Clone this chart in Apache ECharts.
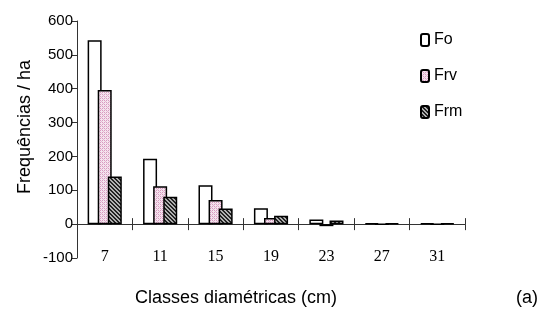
<!DOCTYPE html>
<html><head><meta charset="utf-8">
<script src="https://cdn.jsdelivr.net/npm/echarts@6/dist/echarts.min.js"></script>
<style>html,body{margin:0;padding:0;background:#fff}#c{width:548px;height:324px}</style>
</head><body><div id="c"></div>
<script>
const categories = ['7','11','15','19','23','27','31'];
const fo  = [543, 193, 115, 47, 14, 3, 3];
const frv = [396, 112, 71, 18, -6, 0, 0];
const frm = [141, 81, 46, 25, 11, 3, 3];
const yTicks = [-100, 0, 100, 200, 300, 400, 500, 600];

function makePattern(kind){
  const c = document.createElement('canvas');
  c.width = 4; c.height = 4;
  const g = c.getContext('2d');
  if(kind==='dots'){
    g.fillStyle = '#f4e4ee'; g.fillRect(0,0,4,4);
    g.fillStyle = '#d89ac0';
    g.fillRect(0,0,1,1); g.fillRect(2,2,1,1); g.fillRect(2,0,1,1); g.fillRect(0,2,1,1);
    g.fillStyle = '#e6b8d4';
    g.fillRect(1,1,1,1); g.fillRect(3,3,1,1);
  } else {
    g.fillStyle = '#b0b0b0'; g.fillRect(0,0,4,4);
    g.fillStyle = '#222';
    for(let i=0;i<4;i++){ g.fillRect(i,i,1,1); g.fillRect((i+1)%4,i,1,1); }
  }
  return c;
}
const dotPat = {image: makePattern('dots'), repeat: 'repeat'};
const hatchPat = {image: makePattern('hatch'), repeat: 'repeat'};

const H = 324;
const chart = echarts.init(document.getElementById('c'), null, {renderer:'canvas'});
const barBase = {type:'bar', barWidth:14, barGap:'-28%'};
const gridRect = {left:77, right:83, top:21, bottom:66, containLabel:false};
chart.setOption({
  animation:false,
  textStyle:{fontFamily:'Liberation Sans'},
  grid:[Object.assign({}, gridRect), Object.assign({}, gridRect)],
  legend:{
    orient:'vertical', left:415, top:27, itemGap:20, itemWidth:8, itemHeight:12,
    textStyle:{fontSize:16, color:'#000', fontFamily:'Liberation Sans'},
    data:['Fo','Frv','Frm']
  },
  xAxis:[{
    gridIndex:0, type:'category', data:categories, position:'bottom',
    axisLine:{onZero:true, lineStyle:{color:'#333', width:1}},
    axisTick:{show:true, length:6, lineStyle:{color:'#333'}},
    axisLabel:{show:true, margin:-9, fontFamily:'Liberation Serif', fontSize:16, color:'#000'}
  },{
    gridIndex:1, type:'category', data:categories, position:'bottom',
    axisLine:{onZero:false, show:false},
    axisTick:{show:true, inside:true, length:6, lineStyle:{color:'#333'}},
    axisLabel:{show:false}
  }],
  yAxis:[{
    gridIndex:0, type:'value', min:-100, max:600, interval:100,
    axisLine:{show:true, lineStyle:{color:'#333'}},
    axisTick:{show:true, length:5, lineStyle:{color:'#333'}},
    splitLine:{show:false},
    axisLabel:{fontSize:15, color:'#000', margin:4, fontFamily:'Liberation Sans'}
  },{
    gridIndex:1, type:'value', min:-100, max:600, interval:100, show:false
  }],
  graphic:[
    {type:'text', x:25, y:127, rotation:Math.PI/2, style:{text:'Frequências / ha', font:'18px Liberation Sans', fill:'#000', align:'center', verticalAlign:'middle'}},
    {type:'text', x:236, y:298, style:{text:'Classes diamétricas (cm)', font:'18px Liberation Sans', fill:'#000', align:'center', verticalAlign:'middle'}},
    {type:'text', x:527, y:298, style:{text:'(a)', font:'18px Liberation Sans', fill:'#000', align:'center', verticalAlign:'middle'}}
  ],
  series:[
    Object.assign({name:'Fo', data:fo, itemStyle:{color:'#fff', borderColor:'#000', borderWidth:1.5}}, barBase),
    Object.assign({name:'Frv', data:frv, itemStyle:{color:dotPat, borderColor:'#000', borderWidth:1.5}}, barBase),
    Object.assign({name:'Frm', data:frm, itemStyle:{color:hatchPat, borderColor:'#000', borderWidth:1.5}}, barBase)
  ]
});
// place the upward tick row exactly on the zero line given by the library's y scale
const y0 = chart.convertToPixel({yAxisIndex:0}, 0);
chart.setOption({grid:[{}, {bottom: H - y0}]});
</script></body></html>
